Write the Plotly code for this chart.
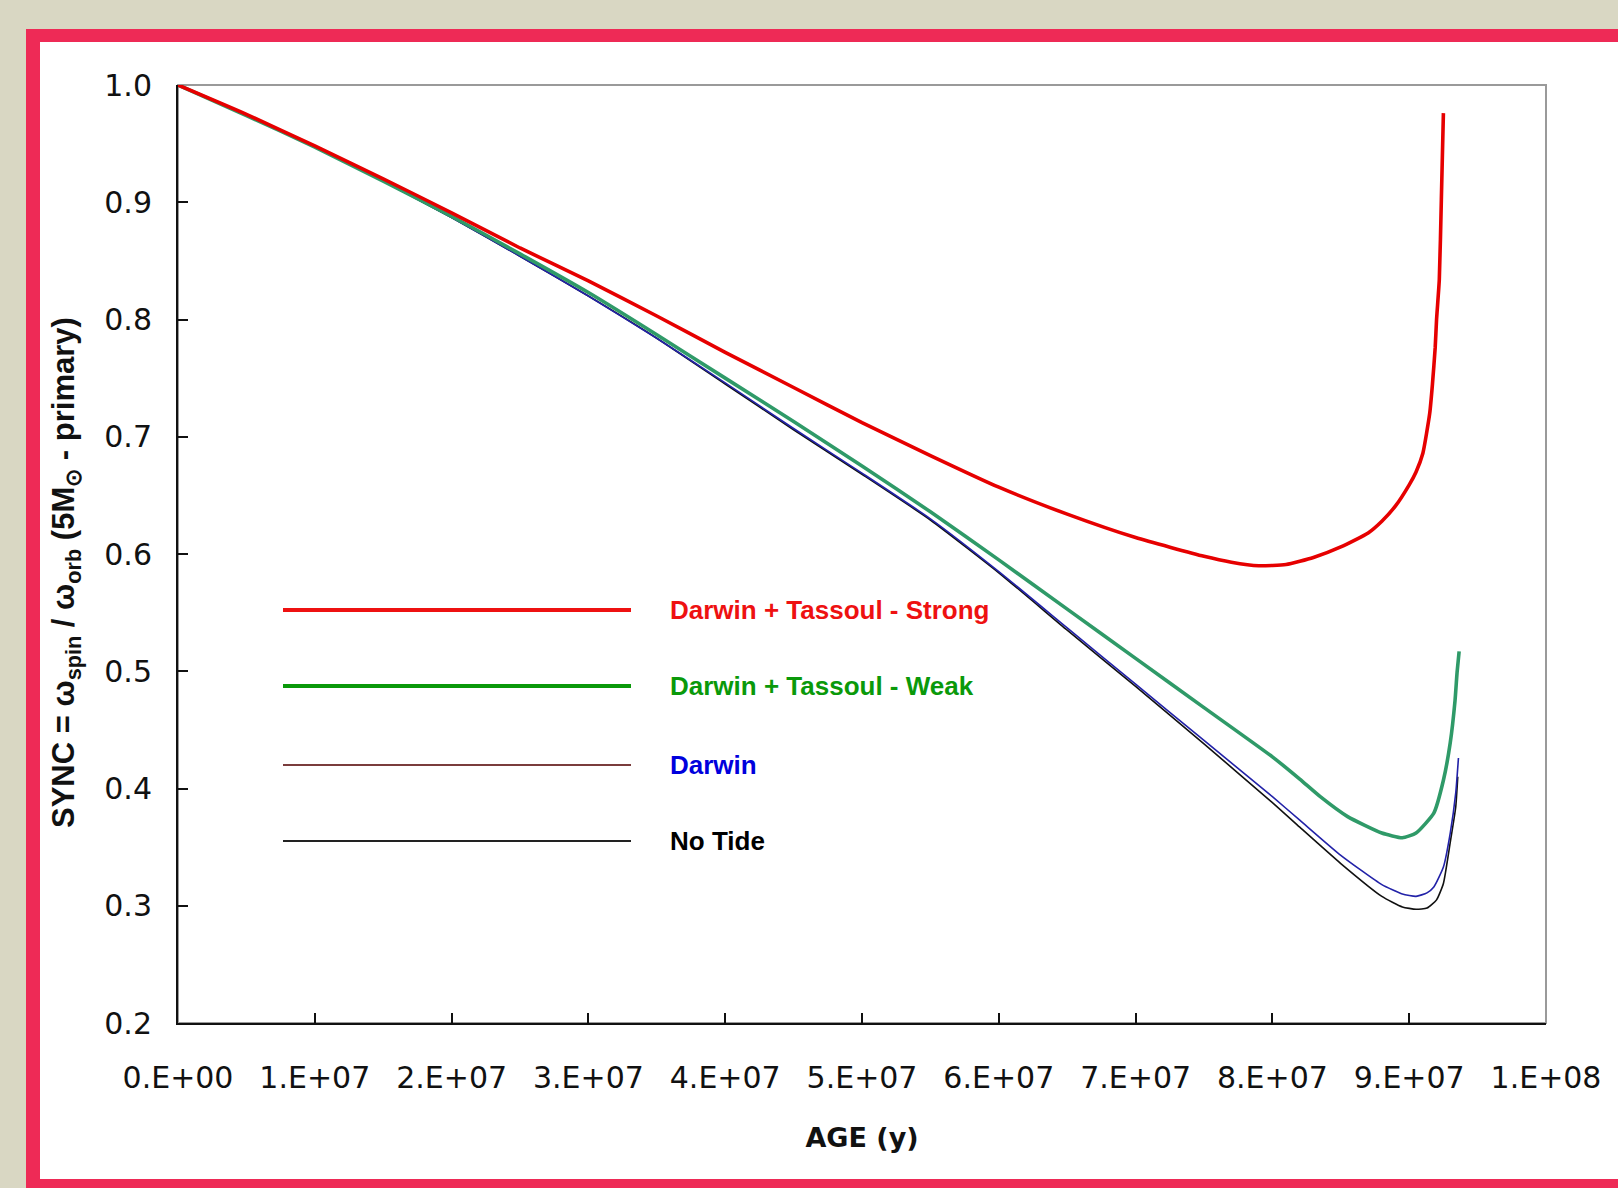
import plotly.graph_objects as go

# Ages in units of 1e7 years, synchronisation ratio for each tidal model
age_strong = [0, 0.5, 1.0, 1.5, 2.0, 2.5, 3.0, 3.5, 4.0, 4.5, 5.0, 5.5, 6.0, 6.5,
              7.0, 7.5, 7.7, 7.9, 8.1, 8.3, 8.5, 8.7, 8.8, 8.9, 9.0, 9.05, 9.1,
              9.15, 9.17, 9.19, 9.20, 9.22, 9.235, 9.25]
sync_strong = [1.000, 0.975, 0.948, 0.920, 0.891, 0.861, 0.833, 0.803, 0.772, 0.742,
               0.712, 0.684, 0.657, 0.634, 0.614, 0.598, 0.593, 0.590, 0.591, 0.597,
               0.606, 0.618, 0.628, 0.641, 0.659, 0.670, 0.686, 0.720, 0.745, 0.776,
               0.800, 0.834, 0.902, 0.976]

age_weak = [0, 0.5, 1.0, 1.5, 2.0, 2.5, 3.0, 3.5, 4.0, 4.5, 5.0, 5.5, 6.0, 6.5, 7.0,
            7.5, 8.0, 8.2, 8.35, 8.55, 8.8, 8.95, 9.05, 9.18, 9.25, 9.30, 9.335,
            9.35, 9.365]
sync_weak = [1.000, 0.974, 0.947, 0.918, 0.888, 0.856, 0.823, 0.787, 0.750, 0.713,
             0.675, 0.636, 0.595, 0.553, 0.511, 0.469, 0.427, 0.408, 0.393, 0.376,
             0.362, 0.358, 0.362, 0.379, 0.407, 0.439, 0.475, 0.499, 0.517]

age_darwin = [0, 0.5, 1.0, 1.5, 2.0, 2.5, 3.0, 3.5, 4.0, 4.5, 5.0, 5.5, 6.0, 6.5,
              7.0, 7.5, 8.0, 8.2, 8.5, 8.8, 8.95, 9.05, 9.13, 9.18, 9.25, 9.30,
              9.34, 9.36]
sync_darwin = [1.000, 0.974, 0.947, 0.918, 0.887, 0.854, 0.820, 0.784, 0.746, 0.707,
               0.669, 0.630, 0.585, 0.537, 0.489, 0.441, 0.393, 0.373, 0.343, 0.318,
               0.310, 0.308, 0.311, 0.316, 0.333, 0.362, 0.396, 0.426]

age_notide = [0, 0.5, 1.0, 1.5, 2.0, 2.5, 3.0, 3.5, 4.0, 4.5, 5.0, 5.5, 6.0, 6.5,
              7.0, 7.5, 8.0, 8.2, 8.5, 8.8, 8.95, 9.05, 9.13, 9.2, 9.25, 9.30,
              9.34, 9.355]
sync_notide = [1.000, 0.974, 0.947, 0.918, 0.887, 0.854, 0.820, 0.784, 0.745, 0.706,
               0.668, 0.629, 0.584, 0.535, 0.487, 0.438, 0.388, 0.367, 0.336, 0.308,
               0.299, 0.297, 0.298, 0.305, 0.319, 0.354, 0.384, 0.410]

AGE_UNIT = 1e7

x_tick_vals = [i * 1e7 for i in range(11)]
x_tick_text = ["0.E+00", "1.E+07", "2.E+07", "3.E+07", "4.E+07", "5.E+07",
               "6.E+07", "7.E+07", "8.E+07", "9.E+07", "1.E+08"]
y_tick_vals = [0.2, 0.3, 0.4, 0.5, 0.6, 0.7, 0.8, 0.9, 1.0]

series_names = ["No Tide", "Darwin", "Darwin + Tassoul - Weak", "Darwin + Tassoul - Strong"]
series_ages = [age_notide, age_darwin, age_weak, age_strong]
series_sync = [sync_notide, sync_darwin, sync_weak, sync_strong]
series_colors = ["#111111", "#2222a8", "#2f9a68", "#e60000"]
series_widths = [1.6, 1.6, 3.6, 3.6]

# legend key: label colour, sample line colour, sample width (top to bottom)
legend_names = ["Darwin + Tassoul - Strong", "Darwin + Tassoul - Weak", "Darwin", "No Tide"]
legend_text_colors = ["#ee1111", "#0a990a", "#0000dd", "#000000"]
legend_line_colors = ["#ee1111", "#0a990a", "#7a3c3c", "#222222"]
legend_line_widths = [4, 4, 2, 2]

W, H = 1618, 1188
L, R, T, B = 178, 72, 85, 165
PW, PH = W - L - R, H - T - B


def px_x(p):
    return (p - L) / PW


def px_y(p):
    return (H - B - p) / PH


fig = go.Figure()
for name, ages, sync, col, wd in zip(series_names, series_ages, series_sync,
                                     series_colors, series_widths):
    fig.add_trace(go.Scatter(
        x=[a * AGE_UNIT for a in ages], y=sync, mode="lines", name=name,
        line=dict(color=col, width=wd, shape="spline", smoothing=0.5),
        showlegend=False, hoverinfo="skip"))

shapes = [
    # red frame and white card
    dict(type="rect", xref="paper", yref="paper", x0=px_x(26), x1=px_x(1650),
         y0=px_y(1220), y1=px_y(29), fillcolor="#ee2a56", line=dict(width=0), layer="below"),
    dict(type="rect", xref="paper", yref="paper", x0=px_x(40), x1=px_x(1650),
         y0=px_y(1179), y1=px_y(42), fillcolor="white", line=dict(width=0), layer="below"),
    # grey plot border (left / bottom axes drawn in black on top)
    dict(type="rect", xref="paper", yref="paper", x0=0, x1=1, y0=0, y1=1,
         line=dict(color="#9a9a9a", width=2), layer="below"),
]

annotations = []
legend_rows = [610, 686, 765, 841]
for name, tcol, lcol, lw, row in zip(legend_names, legend_text_colors,
                                     legend_line_colors, legend_line_widths, legend_rows):
    shapes.append(dict(type="line", xref="paper", yref="paper",
                       x0=px_x(283), x1=px_x(631), y0=px_y(row), y1=px_y(row),
                       line=dict(color=lcol, width=lw), layer="above"))
    annotations.append(dict(xref="paper", yref="paper", x=px_x(668), y=px_y(row),
                            xanchor="left", yanchor="middle", showarrow=False,
                            text=f"<b>{name}</b>",
                            font=dict(family="Liberation Sans", size=26, color=tcol)))

# vertical axis title
annotations.append(dict(
    xref="paper", yref="paper", x=px_x(66), y=px_y(573),
    xanchor="center", yanchor="middle", showarrow=False, textangle=-90,
    text="<b>SYNC = ω<sub>spin</sub> / ω<sub>orb</sub> (5M<sub>⊙</sub> - primary)</b>",
    font=dict(family="Liberation Sans", size=31, color="#111")))

fig.update_layout(
    width=W, height=H,
    margin=dict(l=L, r=R, t=T, b=B, pad=0),
    paper_bgcolor="#d9d7c3",
    plot_bgcolor="rgba(0,0,0,0)",
    shapes=shapes,
    annotations=annotations,
    showlegend=False,
)

fig.update_xaxes(
    range=[0, 1e8], tickvals=x_tick_vals, ticktext=x_tick_text,
    ticks="inside", ticklen=10, tickwidth=1.5, tickcolor="#111",
    showline=True, linecolor="#111", linewidth=2, showgrid=False, zeroline=False,
    ticklabelstandoff=27,
    tickfont=dict(family="DejaVu Sans", size=30, color="#111"),
    title=dict(text="<b>AGE (y)</b>", standoff=34,
               font=dict(family="DejaVu Sans", size=27, color="#111")),
)
fig.update_yaxes(
    range=[0.2, 1.0], tickvals=y_tick_vals, tickformat=".1f",
    ticks="inside", ticklen=10, tickwidth=1.5, tickcolor="#111",
    showline=True, linecolor="#111", linewidth=2, showgrid=False, zeroline=False,
    ticklabelstandoff=18,
    tickfont=dict(family="DejaVu Sans", size=30, color="#111"),
)

fig.write_html("out.html")
